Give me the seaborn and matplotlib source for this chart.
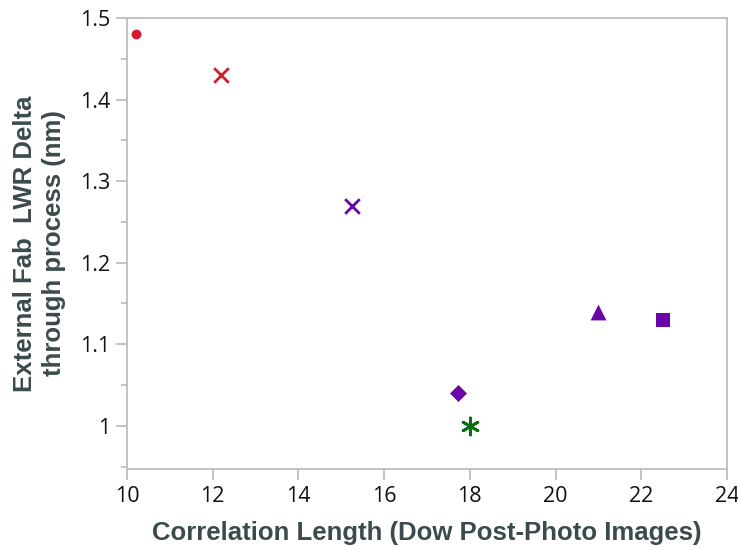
import matplotlib
matplotlib.use("Agg")
import matplotlib.pyplot as plt
from matplotlib.ticker import MultipleLocator
import seaborn as sns
import pandas as pd

# Correlation length vs. LWR delta, one marker per process condition
corr_length = [10.2, 12.2, 15.25, 17.72, 18.0, 21.0, 22.5]
lwr_delta = [1.48, 1.43, 1.27, 1.04, 1.00, 1.14, 1.13]
condition = ["A", "B", "C", "D", "E", "F", "G"]
marker_of = {"A": "o", "B": "x", "C": "x", "D": "D", "E": (6, 2, 0), "F": "^", "G": "s"}
color_of = {"A": "#d01c2c", "B": "#d01c2c", "C": "#6a06a8", "D": "#6a06a8",
            "E": "#0a6e14", "F": "#6a06a8", "G": "#6a06a8"}
size_of = {"A": 50, "B": 110, "C": 110, "D": 75, "E": 150, "F": 130, "G": 110}

df = pd.DataFrame({"x": corr_length, "y": lwr_delta, "cond": condition})

sns.set_style("white")
plt.rcParams["font.family"] = ["Open Sans", "DejaVu Sans"]

fig = plt.figure(figsize=(7.38, 5.5), dpi=100)
ax = fig.add_axes([127 / 738, 1 - 469 / 550, 600 / 738, 451 / 550])

for c in condition:
    sub = df[df["cond"] == c]
    m = marker_of[c]
    line_art = m == "x" or isinstance(m, tuple)
    kw = dict(linewidth=2, edgecolor=color_of[c]) if line_art else dict(linewidth=0)
    sns.scatterplot(data=sub, x="x", y="y", marker=m, color=color_of[c],
                    s=size_of[c], ax=ax, legend=False, zorder=3, **kw)

ax.set_xlim(10, 24)
ax.set_ylim(0.947, 1.5)
ax.xaxis.set_major_locator(MultipleLocator(2))
ax.yaxis.set_minor_locator(MultipleLocator(0.05))
ax.set_yticks([1.0, 1.1, 1.2, 1.3, 1.4, 1.5])
ax.set_yticklabels(["1", "1.1", "1.2", "1.3", "1.4", "1.5"])

for sp in ax.spines.values():
    sp.set_color("#bdbdbd")
    sp.set_linewidth(1.3)

ax.tick_params(axis="both", which="major", direction="out", length=8, width=1.3,
               color="#bdbdbd", labelsize=15.5, labelcolor="#111111", pad=4)
ax.tick_params(axis="y", which="minor", direction="out", length=4, width=1.3,
               color="#bdbdbd")
ax.tick_params(bottom=True, left=True, which="both")
ax.tick_params(axis="x", which="minor", bottom=False)

label_font = dict(family=["Liberation Sans", "DejaVu Sans"], weight="bold",
                  size=18.5, color="#3b4a4c")
ax.set_xlabel("Correlation Length (Dow Post-Photo Images)", labelpad=10, **label_font)
ax.set_ylabel("External Fab  LWR Delta\nthrough process (nm)", labelpad=10,
              linespacing=1.25, **label_font)

fig.savefig("out.png", dpi=100)
